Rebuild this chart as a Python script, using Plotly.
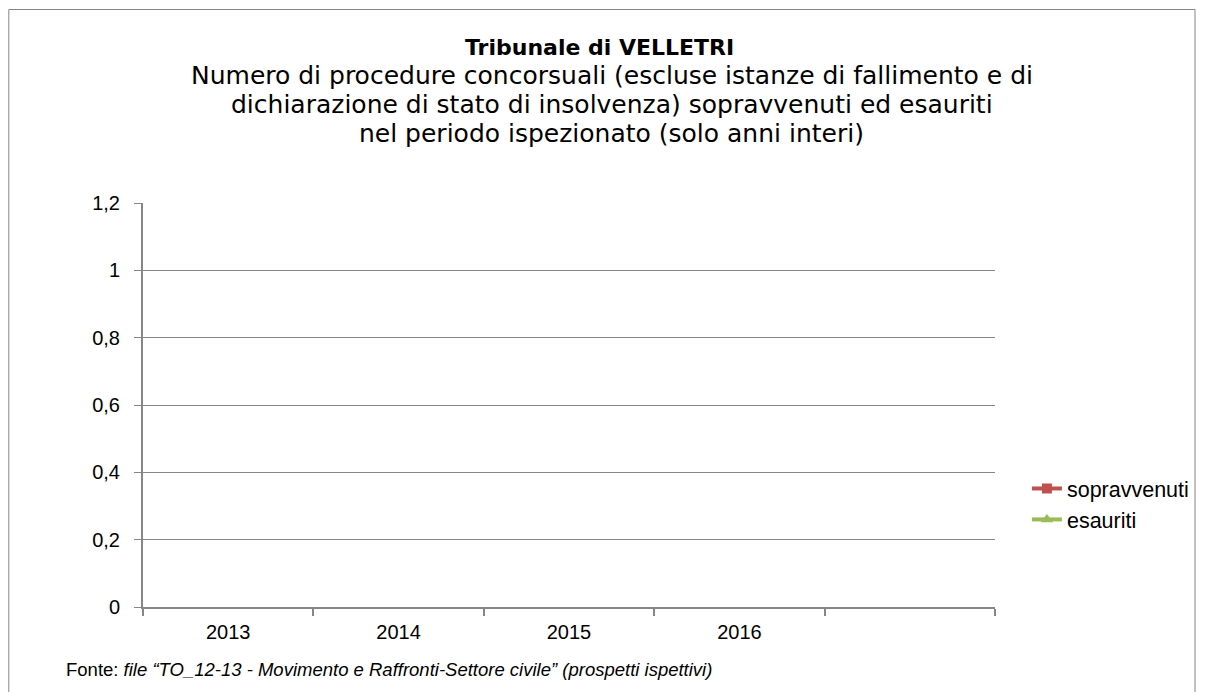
import plotly.graph_objects as go

# Data
categories = ["2013", "2014", "2015", "2016", " "]
sopravvenuti = [None, None, None, None, None]
esauriti = [None, None, None, None, None]
y_ticks = [0, 0.2, 0.4, 0.6, 0.8, 1, 1.2]

title_main = "Tribunale di VELLETRI"
subtitle_lines = [
    "Numero di procedure concorsuali (escluse istanze di fallimento e di",
    "dichiarazione di stato di insolvenza) sopravvenuti ed esauriti",
    "nel periodo ispezionato (solo anni interi)",
]

OFF = 8  # page body margin
W, H = 1206 - OFF, 692 - OFF
PL, PR, PT, PB = 143 - OFF, 997 - OFF, 203 - OFF, 607 - OFF


def px_x(x):
    return (x - OFF - PL) / (PR - PL)


def px_y(y):
    return (PB - (y - OFF)) / (PB - PT)


fig = go.Figure()
fig.add_trace(go.Scatter(
    x=categories, y=sopravvenuti, name="sopravvenuti", mode="lines+markers",
    line=dict(color="#C0504D", width=4),
    marker=dict(symbol="square", size=10, color="#C0504D"),
))
fig.add_trace(go.Scatter(
    x=categories, y=esauriti, name="esauriti", mode="lines+markers",
    line=dict(color="#9BBB59", width=4),
    marker=dict(symbol="triangle-up", size=11, color="#9BBB59"),
))

GRID = "#868686"
TICKFONT = dict(family="Liberation Sans, Arial", size=20, color="black")
fig.update_layout(
    width=W, height=H,
    margin=dict(l=PL, r=W - PR, t=PT, b=H - PB, pad=0),
    paper_bgcolor="white", plot_bgcolor="white",
    separators=",.",
    font=dict(family="Liberation Sans, Arial", size=20, color="black"),
    showlegend=True,
    legend=dict(
        x=px_x(1029), y=px_y(468), xanchor="left", yanchor="top",
        font=dict(family="Liberation Sans, Arial", size=21.5, color="black"),
        bgcolor="rgba(0,0,0,0)", itemwidth=30, tracegroupgap=0,
    ),
    xaxis=dict(
        type="category", categoryorder="array", categoryarray=categories,
        range=[-0.5, len(categories) - 0.5],
        showline=True, linecolor=GRID, linewidth=2,
        ticks="outside", tickson="boundaries", ticklen=7, tickcolor=GRID, tickwidth=2,
        showgrid=False, zeroline=False, fixedrange=True,
        tickfont=TICKFONT, ticklabelstandoff=6,
    ),
    yaxis=dict(
        range=[0, 1.2], tickvals=y_ticks,
        showline=True, linecolor=GRID, linewidth=2,
        ticks="outside", ticklen=7, tickcolor=GRID, tickwidth=1,
        showgrid=True, gridcolor=GRID, gridwidth=1,
        zeroline=False, fixedrange=True,
        tickfont=TICKFONT, ticklabelstandoff=10,
    ),
)

annotations = [
    dict(text="<b>" + title_main + "</b>", x=px_x(601), y=px_y(47),
         font=dict(family="DejaVu Sans, Verdana", size=22, color="black")),
]
for i, line in enumerate(subtitle_lines):
    annotations.append(dict(text=line, x=px_x(613), y=px_y(76 + i * 28.5),
                            font=dict(family="DejaVu Sans, Verdana", size=25, color="black")))
annotations.append(dict(
    text="Fonte: <i>file \u201cTO_12-13 - Movimento e Raffronti-Settore civile\u201d (prospetti ispettivi)</i>",
    x=px_x(64), y=px_y(669), xanchor="left",
    font=dict(family="Liberation Sans, Arial", size=18.5, color="black")))
for a in annotations:
    a.update(xref="paper", yref="paper", showarrow=False)
    a.setdefault("xanchor", "center")
    a.setdefault("yanchor", "middle")
fig.update_layout(annotations=annotations)

fig.add_shape(type="rect", xref="paper", yref="paper",
              x0=px_x(8.5), x1=px_x(1197.5), y0=px_y(9.5), y1=px_y(720),
              line=dict(color="#868686", width=1), fillcolor="rgba(0,0,0,0)", layer="below")

fig.write_html("out.html")
